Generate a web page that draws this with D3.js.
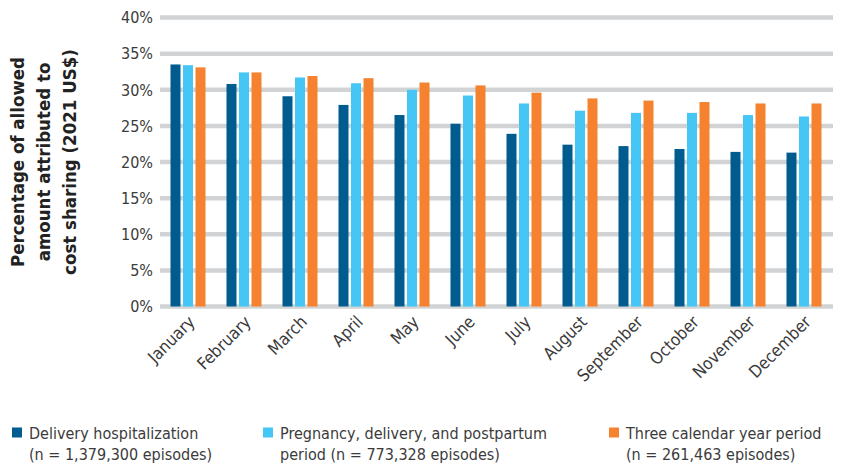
<!DOCTYPE html>
<html><head><meta charset="utf-8">
<script src="https://cdn.jsdelivr.net/npm/d3@7"></script>
<style>
html,body{margin:0;padding:0;background:#fff;}
svg{display:block;}
.t{font-family:"Liberation Sans Narrow","DejaVu Sans Condensed","Roboto Condensed",Roboto,sans-serif;fill:#3b3b3b;}
</style></head><body>
<svg id="c" width="849" height="465"></svg>
<script>
const months = ["January","February","March","April","May","June","July","August","September","October","November","December"];
const seriesNames = ["Delivery hospitalization","Pregnancy, delivery, and postpartum","Three calendar year period"];
const legendLine1 = ["Delivery hospitalization","Pregnancy, delivery, and postpartum","Three calendar year period"];
const legendLine2 = ["(n = 1,379,300 episodes)","period (n = 773,328 episodes)","(n = 261,463 episodes)"];
const deliveryHosp = [33.5,30.8,29.1,27.9,26.5,25.3,23.9,22.4,22.2,21.8,21.4,21.3];
const pregnancyPeriod = [33.4,32.4,31.7,30.9,30.0,29.2,28.1,27.1,26.8,26.8,26.5,26.3];
const threeYear = [33.1,32.4,31.9,31.6,31.0,30.6,29.6,28.8,28.5,28.3,28.1,28.1];
const yTicks = [0,5,10,15,20,25,30,35,40];
const yTitle = ["Percentage of allowed","amount attributed to","cost sharing (2021 US$)"];
const colors = ["#005b8e","#45c6f4","#f5822f"];

const values = [deliveryHosp, pregnancyPeriod, threeYear];
const svg = d3.select("#c");
const x0 = d3.scaleBand().domain(months).range([160,832]).paddingInner(0.375).paddingOuter(0.1875);
const x1 = d3.scaleBand().domain(d3.range(3)).range([0,x0.bandwidth()]).paddingInner(0.2).paddingOuter(0);
const y = d3.scaleLinear().domain([0,40]).range([306.5,17.5]);

// gridlines
svg.append("g").selectAll("line").data(yTicks).join("line")
  .attr("x1",160).attr("x2",833).attr("y1",d=>y(d)).attr("y2",d=>y(d))
  .attr("stroke","#d2d3d5").attr("stroke-width",4.5);

// y tick labels
svg.append("g").selectAll("text").data(yTicks).join("text").attr("class","t")
  .attr("x",153).attr("y",d=>y(d)).attr("dy","0.36em").attr("text-anchor","end")
  .attr("font-size",16).text(d=>d+"%");

// bars
const g = svg.append("g");
months.forEach((m,i)=>{
  values.forEach((s,k)=>{
    g.append("rect").attr("x",x0(m)+x1(k)).attr("width",x1.bandwidth())
     .attr("y",y(s[i])).attr("height",y(0)-y(s[i])).attr("fill",colors[k]);
  });
});

// x labels
svg.append("g").selectAll("text").data(months).join("text").attr("class","t")
  .attr("text-anchor","end").attr("font-size",17)
  .attr("transform",d=>`translate(${x0(d)+x0.bandwidth()/2+8},323) rotate(-45)`)
  .text(d=>d);

// y title
const yt = svg.append("text").attr("class","t").attr("font-weight","bold").attr("font-size",18.5)
  .attr("text-anchor","middle").style("fill","#222")
  .attr("transform","translate(0,162) rotate(-90)");
yTitle.forEach((l,i)=>yt.append("tspan").attr("x",0).attr("y",24+i*26).text(l));

// legend
const lx = [12,263,609];
seriesNames.forEach((n,k)=>{
  svg.append("rect").attr("x",lx[k]).attr("y",427.5).attr("width",10).attr("height",10).attr("fill",colors[k]);
  const t = svg.append("text").attr("class","t").attr("font-size",16);
  t.append("tspan").attr("x",lx[k]+17).attr("y",438.5).text(legendLine1[k]);
  t.append("tspan").attr("x",lx[k]+17).attr("y",459.5).text(legendLine2[k]);
});
</script></body></html>
